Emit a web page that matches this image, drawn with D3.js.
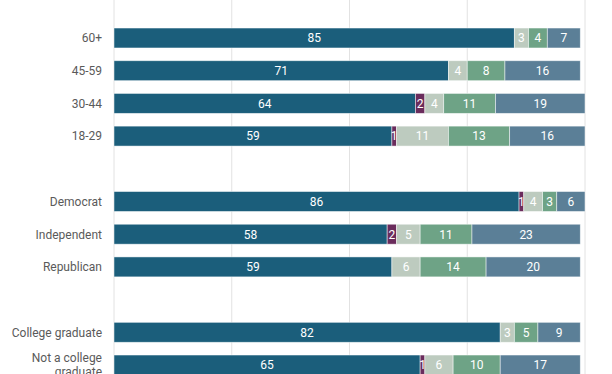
<!DOCTYPE html>
<html>
<head>
<meta charset="utf-8">
<script src="https://cdn.jsdelivr.net/npm/d3@7"></script>
<style>
  html, body { margin: 0; padding: 0; background: #fff; }
  svg { display: block; font-family: Roboto, "Liberation Sans", sans-serif; }
</style>
</head>
<body>
<svg id="chart" width="612" height="374"></svg>
<script>
// ---- data ----
const rowIds = ["60+", "45-59", "30-44", "18-29", "_gap1", "Democrat", "Independent", "Republican", "_gap2", "College graduate", "Not a college graduate"];
const rowLabels = [["60+"], ["45-59"], ["30-44"], ["18-29"], [], ["Democrat"], ["Independent"], ["Republican"], [], ["College graduate"], ["Not a college", "graduate"]];
const seriesNames = ["s1", "s2", "s3", "s4", "s5"];
const seriesColors = ["#1b5e7b", "#6a2c5c", "#bdcbbf", "#6ea386", "#5b7f97"];
const s1 = [85, 71, 64, 59, null, 86, 58, 59, null, 82, 65];
const s2 = [0, 0, 2, 1, null, 1, 2, 0, null, 0, 1];
const s3 = [3, 4, 4, 11, null, 4, 5, 6, null, 3, 6];
const s4 = [4, 8, 11, 13, null, 3, 11, 14, null, 5, 10];
const s5 = [7, 16, 19, 16, null, 6, 23, 20, null, 9, 17];
const gridTicks = [0, 25, 50, 75, 100];

// ---- build table ----
const seriesVals = [s1, s2, s3, s4, s5];
const table = rowIds.map((id, i) => {
  const o = { id };
  seriesNames.forEach((s, k) => o[s] = seriesVals[k][i] || 0);
  return o;
}).filter(d => !d.id.startsWith("_gap"));

const svg = d3.select("#chart");
const x = d3.scaleLinear().domain([0, 100]).range([114, 585]);
const step = 32.7;
const y = d3.scaleBand().domain(rowIds)
  .range([38 - step / 2, 38 - step / 2 + step * rowIds.length])
  .paddingInner(0.39).paddingOuter(0.195);

// gridlines
svg.append("g").selectAll("line").data(gridTicks).join("line")
  .attr("x1", d => x(d)).attr("x2", d => x(d))
  .attr("y1", 0).attr("y2", 374)
  .attr("stroke", "#e2e2e2").attr("stroke-width", 1);

const stack = d3.stack().keys(seriesNames)(table);

const g = svg.append("g");
stack.forEach((layer, k) => {
  const lg = g.append("g");
  lg.selectAll("rect").data(layer.filter(d => d[1] - d[0] > 0)).join("rect")
    .attr("x", d => x(d[0]))
    .attr("width", d => x(d[1]) - x(d[0]))
    .attr("y", d => y(d.data.id))
    .attr("height", y.bandwidth())
    .attr("fill", seriesColors[k])
    .attr("stroke", "#ffffff").attr("stroke-opacity", 0.6).attr("stroke-width", 0.8);
});
stack.forEach((layer, k) => {
  g.append("g").selectAll("text").data(layer.filter(d => d[1] - d[0] > 0)).join("text")
    .attr("x", d => (x(d[0]) + x(d[1])) / 2)
    .attr("y", d => y(d.data.id) + y.bandwidth() / 2)
    .attr("dy", "0.36em")
    .attr("text-anchor", "middle")
    .attr("fill", "#ffffff")
    .attr("font-size", 12)
    .text(d => d[1] - d[0]);
});

// category labels
const lab = svg.append("g");
rowIds.forEach((id, i) => {
  const lines = rowLabels[i];
  if (!lines.length) return;
  const cy = y(id) + y.bandwidth() / 2;
  const lh = 14;
  const t = lab.append("text")
    .attr("x", 102)
    .attr("text-anchor", "end")
    .attr("fill", "#5a5a5a")
    .attr("font-size", 12);
  lines.forEach((ln, j) => {
    t.append("tspan").attr("x", 102)
      .attr("y", cy + (j - (lines.length - 1) / 2) * lh)
      .attr("dy", "0.36em").text(ln);
  });
});
</script>
</body>
</html>
